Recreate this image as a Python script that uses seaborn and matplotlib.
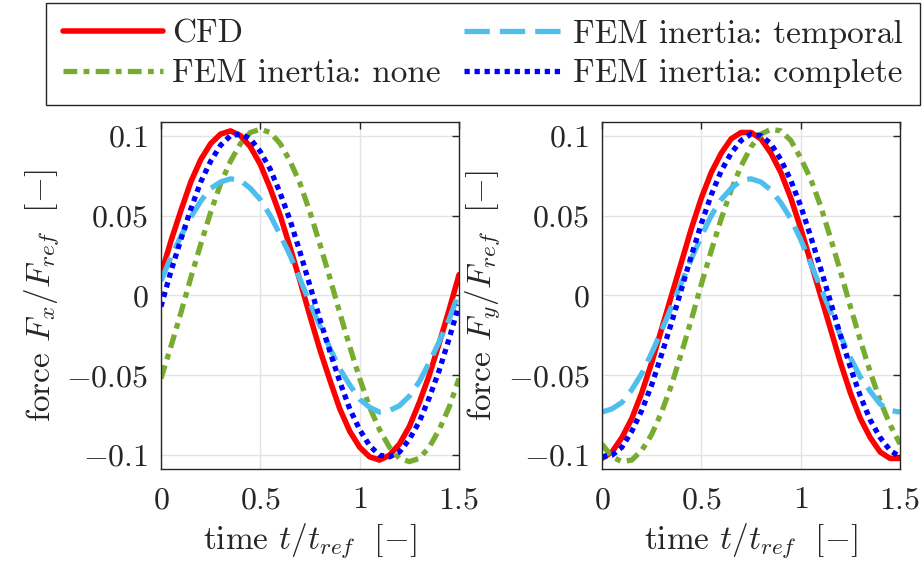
import matplotlib
matplotlib.use("Agg")
import matplotlib.pyplot as plt
import seaborn as sns
import pandas as pd

# time samples t/t_ref
time = [0.0, 0.05, 0.1, 0.15, 0.2, 0.25, 0.3, 0.35, 0.4, 0.45, 0.5,
        0.55, 0.6, 0.65, 0.7, 0.75, 0.8, 0.85, 0.9, 0.95, 1.0,
        1.05, 1.1, 1.15, 1.2, 1.25, 1.3, 1.35, 1.4, 1.45, 1.5]

# force F_x / F_ref
fx_cfd = [0.013, 0.034, 0.053, 0.071, 0.085, 0.095, 0.101, 0.103, 0.100, 0.093, 0.082,
          0.067, 0.050, 0.030, 0.009, -0.013, -0.034, -0.053, -0.071, -0.085, -0.095,
          -0.101, -0.103, -0.100, -0.093, -0.082, -0.067, -0.050, -0.030, -0.009, 0.013]
fx_none = [-0.052, -0.032, -0.011, 0.011, 0.032, 0.052, 0.070, 0.084, 0.095, 0.102, 0.104,
           0.102, 0.095, 0.084, 0.070, 0.052, 0.032, 0.011, -0.011, -0.032, -0.052,
           -0.070, -0.084, -0.095, -0.102, -0.104, -0.102, -0.095, -0.084, -0.070, -0.052]
fx_temporal = [0.009, 0.024, 0.037, 0.049, 0.059, 0.067, 0.071, 0.073, 0.072, 0.067, 0.060,
               0.050, 0.038, 0.025, 0.010, -0.005, -0.019, -0.033, -0.046, -0.056, -0.065,
               -0.070, -0.073, -0.072, -0.069, -0.063, -0.054, -0.042, -0.029, -0.015, 0.002]
fx_complete = [-0.007, 0.015, 0.035, 0.054, 0.071, 0.084, 0.094, 0.100, 0.101, 0.098, 0.090,
               0.079, 0.064, 0.047, 0.027, 0.006, -0.015, -0.035, -0.054, -0.071, -0.084,
               -0.094, -0.100, -0.101, -0.098, -0.090, -0.079, -0.064, -0.047, -0.027, -0.006]

# force F_y / F_ref
fy_cfd = [-0.102, -0.098, -0.089, -0.077, -0.061, -0.042, -0.021, 0.000, 0.021, 0.042, 0.061,
          0.077, 0.089, 0.098, 0.102, 0.102, 0.098, 0.089, 0.077, 0.061, 0.042,
          0.021, 0.000, -0.021, -0.042, -0.061, -0.077, -0.089, -0.098, -0.102, -0.102]
fy_none = [-0.093, -0.101, -0.104, -0.103, -0.097, -0.087, -0.073, -0.056, -0.036, -0.015, 0.007,
           0.028, 0.048, 0.066, 0.081, 0.093, 0.101, 0.104, 0.103, 0.097, 0.086,
           0.073, 0.056, 0.036, 0.015, -0.007, -0.028, -0.048, -0.066, -0.081, -0.093]
fy_temporal = [-0.073, -0.071, -0.067, -0.059, -0.049, -0.036, -0.022, -0.007, 0.008, 0.023, 0.037,
               0.050, 0.060, 0.067, 0.072, 0.073, 0.071, 0.066, 0.058, 0.048, 0.035,
               0.020, 0.005, -0.010, -0.025, -0.039, -0.051, -0.060, -0.068, -0.072, -0.073]
fy_complete = [-0.101, -0.100, -0.095, -0.085, -0.072, -0.056, -0.037, -0.017, 0.004, 0.025, 0.045,
               0.063, 0.078, 0.089, 0.097, 0.101, 0.100, 0.095, 0.085, 0.072, 0.056,
               0.037, 0.017, -0.004, -0.025, -0.045, -0.063, -0.078, -0.089, -0.097, -0.101]

series_names = ["CFD", "FEM inertia: none", "FEM inertia: temporal", "FEM inertia: complete"]
colors = ["#FF0000", "#77AC30", "#4DBEEE", "#0000FF"]
styles = ["-", (0, (2.6, 1.2, 1.1, 1.2)), (0, (4.8, 1.9)), (0, (1.0, 0.9))]
widths = [4.0, 3.8, 3.8, 3.8]

xticks = [0, 0.5, 1, 1.5]
xticklabels = ["$0$", "$0.5$", "$1$", "$1.5$"]
yticks = [-0.1, -0.05, 0, 0.05, 0.1]
yticklabels = ["$-0.1$", "$-0.05$", "$0$", "$0.05$", "$0.1$"]

sns.set_style("white")
plt.rcParams["font.family"] = ["cmr10", "DejaVu Serif"]
plt.rcParams["mathtext.fontset"] = "cm"
plt.rcParams["axes.formatter.use_mathtext"] = True
plt.rcParams["axes.unicode_minus"] = True

fig = plt.figure(figsize=(9.24, 5.63), dpi=100)
ax1 = fig.add_axes([0.1742, 0.167, 0.3226, 0.617])
ax2 = fig.add_axes([0.6515, 0.167, 0.3226, 0.617])

panels = [
    (ax1, [fx_cfd, fx_none, fx_temporal, fx_complete], r"force $F_x/F_{ref}\ \ [-]$"),
    (ax2, [fy_cfd, fy_none, fy_temporal, fy_complete], r"force $F_y/F_{ref}\ \ [-]$"),
]

for ax, data, ylab in panels:
    for name, vals, c, ls, lw in zip(series_names, data, colors, styles, widths):
        df = pd.DataFrame({"t": time, "f": vals})
        sns.lineplot(data=df, x="t", y="f", ax=ax, color=c, linestyle=ls,
                     linewidth=lw, label=name, legend=False)
    ax.set_xlim(0, 1.5)
    ax.set_ylim(-0.1086, 0.1088)
    ax.set_xticks(xticks)
    ax.set_xticklabels(xticklabels)
    ax.set_yticks(yticks)
    ax.set_yticklabels(yticklabels)
    ax.grid(True, color="#E3E3E3", linewidth=1.0)
    ax.set_axisbelow(True)
    ax.tick_params(direction="in", length=5, width=1, colors="#262626",
                   labelsize=23, top=True, right=True)
    ax.tick_params(axis="y", pad=9)
    ax.tick_params(axis="x", pad=13)
    for sp in ax.spines.values():
        sp.set_color("#262626")
        sp.set_linewidth(1.0)
    ax.set_xlabel(r"time $t/t_{ref}\ \ [-]$", fontsize=24, color="#262626", labelpad=5)
    ax.set_ylabel(ylab, fontsize=24, color="#262626", labelpad=4)

handles, labels = ax1.get_legend_handles_labels()
leg = fig.legend(handles, labels,
                 loc="upper center", bbox_to_anchor=(0.5227, 0.9947),
                 ncol=2, fontsize=24, frameon=True, fancybox=False,
                 edgecolor="#262626", framealpha=1, borderaxespad=0,
                 handlelength=3.0, handletextpad=0.27,
                 labelspacing=0.3, borderpad=0.5, columnspacing=0.72)
leg.get_frame().set_linewidth(1.0)

fig.savefig("out.png", dpi=100)
